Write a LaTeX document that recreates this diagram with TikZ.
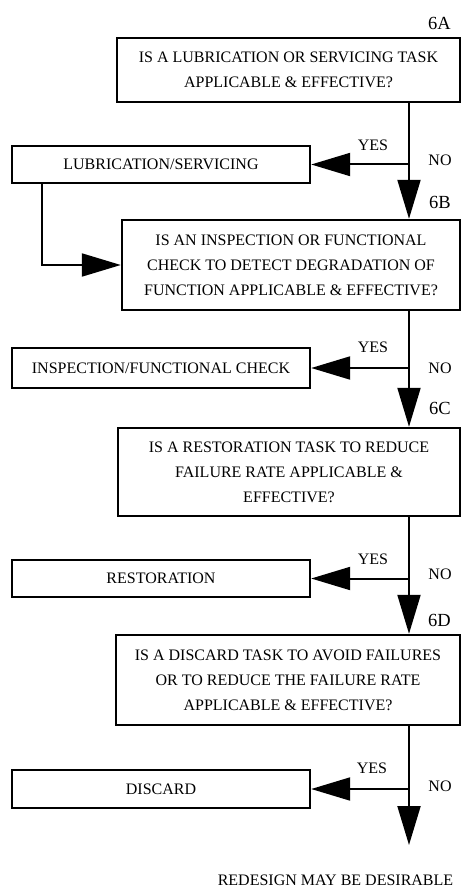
\documentclass[tikz,border=0pt]{standalone}
\usepackage{fontspec}
\setmainfont{Liberation Serif}
\usetikzlibrary{arrows.meta}
\begin{document}
\begin{tikzpicture}[x=1pt,y=-1pt,
  box/.style={draw, line width=2.4pt, inner sep=0pt, align=center, font=\fontsize{16}{25}\selectfont},
  conn/.style={line width=2pt, -{Triangle[length=39pt,width=23pt]}},
  lbl/.style={font=\fontsize{16}{18}\selectfont, inner sep=0pt},
  tag/.style={font=\fontsize{18.5}{20}\selectfont, inner sep=0pt, anchor=east}]
\useasboundingbox (0,0) rectangle (461,890);
\node[box, minimum width=343pt, minimum height=64pt] (qa) at (288.5,70) {IS A LUBRICATION OR SERVICING TASK\\APPLICABLE \& EFFECTIVE?};
\node[box, minimum width=298pt, minimum height=37pt] (lub) at (161,164.5) {LUBRICATION/SERVICING};
\node[box, minimum width=338pt, minimum height=90pt] (qb) at (291,265) {IS AN INSPECTION OR FUNCTIONAL\\CHECK TO DETECT DEGRADATION OF\\FUNCTION APPLICABLE \& EFFECTIVE?};
\node[box, minimum width=298pt, minimum height=40pt] (insp) at (161,368) {INSPECTION/FUNCTIONAL CHECK};
\node[box, minimum width=342pt, minimum height=88pt] (qc) at (289,472) {IS A RESTORATION TASK TO REDUCE\\FAILURE RATE APPLICABLE \&\\EFFECTIVE?};
\node[box, minimum width=298pt, minimum height=37pt] (rest) at (161,578.5) {RESTORATION};
\node[box, minimum width=344pt, minimum height=90pt] (qd) at (288,680) {IS A DISCARD TASK TO AVOID FAILURES\\OR TO REDUCE THE FAILURE RATE\\APPLICABLE \& EFFECTIVE?};
\node[box, minimum width=298pt, minimum height=38pt] (disc) at (161,789) {DISCARD};
\node[lbl] (redesign) at (335.5,880) {REDESIGN MAY BE DESIRABLE};
\coordinate (vx) at (409,0);
\coordinate (lx) at (42,0);
\coordinate (endpt) at (409,845);
% tags
\node[tag] (ta) at (451,23) {6A};
\node[tag] (tb) at (451,202) {6B};
\node[tag] (tc) at (451,408) {6C};
\node[tag] (td) at (451,620) {6D};
% yes/no
\node[lbl] (y1) at (373,145) {YES};
\node[lbl] (n1) at (440,160) {NO};
\node[lbl] (y2) at (373,347) {YES};
\node[lbl] (n2) at (440,368) {NO};
\node[lbl] (y3) at (373,559) {YES};
\node[lbl] (n3) at (440,574) {NO};
\node[lbl] (y4) at (372,768) {YES};
\node[lbl] (n4) at (440,786) {NO};
% connectors
\draw[conn] (qa.south -| vx) -- (qb.north -| vx);
\draw[conn] (vx |- lub.east) -- (lub.east);
\draw[conn] (lub.south -| lx) |- (qb.west);
\draw[conn] (qb.south -| vx) -- (qc.north -| vx);
\draw[conn] (vx |- insp.east) -- (insp.east);
\draw[conn] (qc.south -| vx) -- (qd.north -| vx);
\draw[conn] (vx |- rest.east) -- (rest.east);
\draw[conn] (qd.south -| vx) -- (endpt);
\draw[conn] (vx |- disc.east) -- (disc.east);
\end{tikzpicture}
\end{document}
